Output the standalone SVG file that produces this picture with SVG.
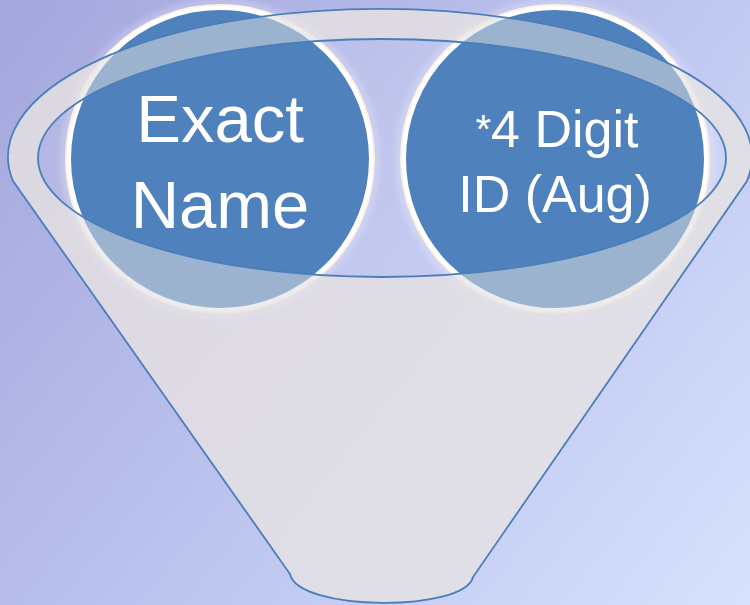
<svg xmlns="http://www.w3.org/2000/svg" width="750" height="605" viewBox="0 0 750 605">
<defs>
<linearGradient id="bg" gradientUnits="userSpaceOnUse" x1="0" y1="0" x2="750" y2="605">
<stop offset="0" stop-color="#A4A6DC"/>
<stop offset="0.5" stop-color="#BCC3EE"/>
<stop offset="1" stop-color="#D6E2FD"/>
</linearGradient>
<linearGradient id="back" gradientUnits="userSpaceOnUse" x1="0" y1="0" x2="750" y2="605">
<stop offset="0" stop-color="#DAD0E4"/>
<stop offset="1" stop-color="#E8E6F0"/>
</linearGradient>
<filter id="glow" x="-20%" y="-20%" width="140%" height="140%">
<feGaussianBlur stdDeviation="3"/>
</filter>
<style>
.outline{fill:none;stroke:#4A7EBB;stroke-width:1.8}
.circ{fill:#4F81BD;stroke:#FFFFFF;stroke-width:4}
.halo{fill:none;stroke:#FFFFFF;stroke-width:6;opacity:0.3}
.cream{fill:none;stroke:#FDF2E4;stroke-width:3}
.lbl{fill:#FFFFFF;font-family:"Liberation Sans",Arial,sans-serif;text-anchor:middle}
</style>
</defs>
<rect width="750" height="605" fill="url(#bg)"/>
<g id="funnel-back">
<path d="M13,181 A372,148 0 1 1 747,181 L473,577 C465,612 298,612 290,574 Z" fill="url(#back)"/>
<ellipse cx="382" cy="158" rx="344" ry="119" fill="url(#bg)"/>
<ellipse cx="382" cy="158" rx="344" ry="119" fill="#FFFFFF" opacity="0.12"/>
</g>
<g id="node-exact-name">
<circle cx="220" cy="159" r="156" class="halo" filter="url(#glow)"/>
<circle cx="220" cy="159" r="153.5" class="cream"/>
<circle cx="220" cy="159" r="151" class="circ"/>
</g>
<g id="node-4digit">
<circle cx="555" cy="159" r="156" class="halo" filter="url(#glow)"/>
<circle cx="555" cy="159" r="153.5" class="cream"/>
<circle cx="555" cy="159" r="151" class="circ"/>
</g>
<g id="funnel-front">
<path d="M13,181 A372,148 0 1 1 747,181 L473,577 C465,612 298,612 290,574 Z M38,158 A344,119 0 1 0 726,158 A344,119 0 1 0 38,158 Z" fill="#DCDCE0" fill-opacity="0.55" fill-rule="evenodd"/>
</g>
<g id="connectors">
<path class="outline" d="M13,181 A372,148 0 1 1 747,181 L473,577 C465,612 298,612 290,574 Z"/>
<ellipse class="outline" cx="382" cy="158" rx="344" ry="119"/>
</g>
<g id="labels">
<text class="lbl" x="220" y="142" font-size="67">Exact</text>
<text class="lbl" x="220" y="228" font-size="67">Name</text>
<text class="lbl" x="557" y="147" font-size="52"><tspan font-size="40" dy="-4">*</tspan><tspan dy="4">4 Digit</tspan></text>
<text class="lbl" x="555" y="212" font-size="52">ID (Aug)</text>
</g>
</svg>
